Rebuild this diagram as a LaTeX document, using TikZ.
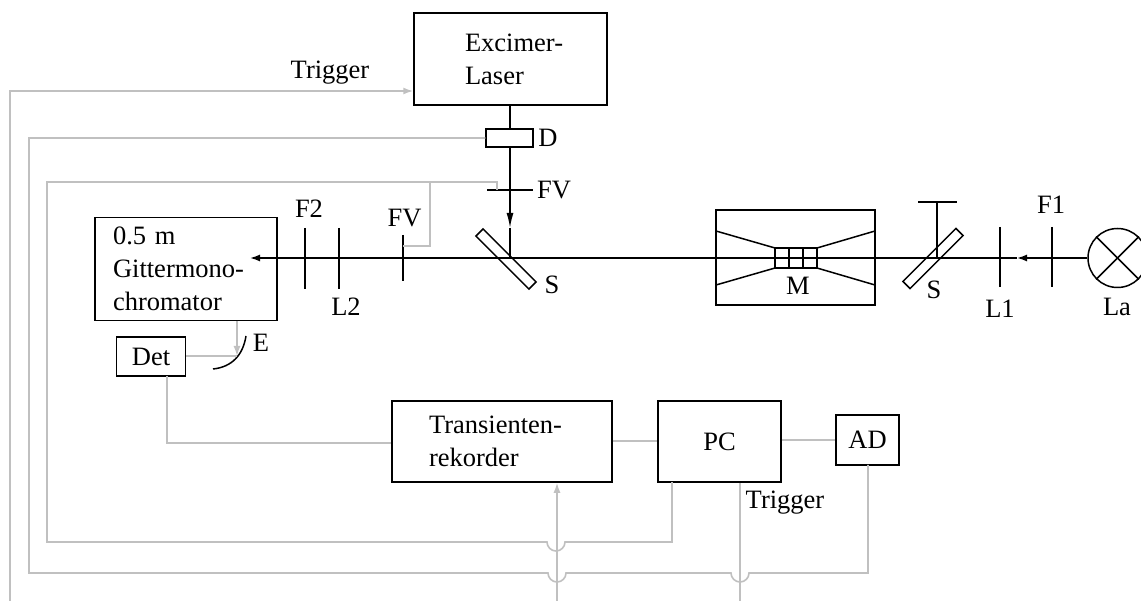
\documentclass[tikz,border=0pt]{standalone}
\usepackage{xcolor}
\usepackage{fontspec}
\usetikzlibrary{arrows.meta}
\setmainfont{Liberation Serif}
\definecolor{sigGray}{HTML}{C0C0C0}
\tikzset{
  lab/.style={inner sep=0pt,font=\fontsize{26.5}{33}\selectfont},
  boxnode/.style={draw=black,line width=1.5pt,inner sep=0pt,font=\fontsize{26.5}{33}\selectfont},
  beam/.style={draw=black,line width=1.5pt},
  elem/.style={draw=black,line width=1.5pt},
  sig/.style={draw=sigGray,line width=1.6pt},
  tip/.style={-{Latex[length=10pt,width=7pt]}}
}
\begin{document}
\begin{tikzpicture}[x=1pt,y=-1pt]
\useasboundingbox (0,0) rectangle (1141,601);
\def\hop{9}
% optics
\node[boxnode,minimum width=193,minimum height=92,text width=91,inner xsep=51pt,align=left] (laser) at (510.5,59) {\mbox{Excimer-}\\Laser};
\node[boxnode,minimum width=47,minimum height=18] (shutter) at (509.5,138) {};
\node[boxnode,minimum width=182,minimum height=103,text width=146,inner xsep=18pt,align=left] (mono) at (186,269) {0.5 m\\Gittermono-\\chromator};
\node[boxnode,minimum width=159,minimum height=95] (cell) at (795.5,257.5) {};
\node[boxnode,minimum width=75,minimum height=10,rotate=-45] (splitA) at (506,259) {};
\node[boxnode,minimum width=75,minimum height=10,rotate=45] (splitB) at (933,258.5) {};
\node[draw=black,line width=1.5pt,circle,minimum size=59,inner sep=0pt] (lamp) at (1117.5,258) {};
\coordinate (mono in) at (250,258);
\coordinate (lamp tip) at (1017,258);
\coordinate (hit A) at (510,258);
\coordinate (hit B) at (937,258);
\coordinate (pump tip) at (510,228);
\draw[elem] (lamp.45) -- (lamp.225);
\draw[elem] (lamp.135) -- (lamp.315);
\draw[beam,tip] (lamp.west) -- (lamp tip);
\draw[beam,tip] (lamp tip) -- (mono in);
\draw[beam] (laser.south-|hit A) -- (shutter.north-|hit A);
\draw[beam,-{Latex[length=15pt,width=7pt]}] (shutter.south-|hit A) -- (pump tip);
\draw[beam] (pump tip) -- (hit A);
\draw[elem] (hit B) -- (937,202);
\draw[elem] (918,202) -- (957,202);
% filter, lenses
\draw[elem] (305,228) -- (305,289);
\draw[elem] (339,228) -- (339,289);
\draw[elem] (403,235) -- (403,281);
\draw[elem] (487,190) -- (533,190);
\draw[elem] (1000,227) -- (1000,287);
\draw[elem] (1052,227) -- (1052,287);
% sample cell
\draw[elem] (775,248) rectangle (817,268);
\draw[elem] (789,248) rectangle (803,268);
\draw[elem] (716,231) -- (775,248) (716,285) -- (775,268);
\draw[elem] (875,231) -- (817,248) (875,285) -- (817,268);
\draw[elem] (213,369) .. controls (232,367) and (243,355) .. (246,336);
% electronics
\node[boxnode,minimum width=69,minimum height=39] (det) at (151,356.5) {Det};
\node[boxnode,minimum width=220,minimum height=81,text width=146,inner xsep=37pt,align=left] (rec) at (502,441.5) {Transienten-\\rekorder};
\node[boxnode,minimum width=123,minimum height=81] (pc) at (719.5,441.5) {PC};
\node[boxnode,minimum width=63,minimum height=50] (ad) at (867.5,440) {AD};
\draw[sig,tip] (237,321) -- (237,356);
\draw[sig] (det.east|-0,356) -- (237,356);
\draw[sig] (167,376) -- (167,443) -- (rec.west|-0,443);
\draw[sig] (rec.east|-0,441) -- (pc.west|-0,441);
\draw[sig] (pc.east|-0,440) -- (ad.west);
\draw[sig,tip] (10,601) -- (10,91) -- (laser.west|-0,91);
\draw[sig,tip] (557,601) -- (rec.south-|557,0);
\draw[sig] (740,601) -- (pc.south-|740,0);
% cables with hops
\draw[sig] (shutter.west) -- (29,138) -- (29,573) -- (548,573) arc[start angle=180,end angle=0,radius=\hop] -- (567,573) -- (731,573) arc[start angle=180,end angle=0,radius=\hop] -- (749,573) -- (868,573) -- (868,465);
\draw[sig] (672,482) -- (672,542) -- (565,542) arc[start angle=0,end angle=180,radius=\hop] -- (47,542) -- (47,182) -- (497,182) -- (497,190);
\draw[sig] (430,182) -- (430,246) -- (403,246);
% labels
\node[lab] (trigA) at (330,73) {Trigger};
\node[lab] (trigB) at (785,503) {Trigger};
\node[lab] (labD) at (548,138) {D};
\node[lab] (labFVa) at (554,190) {FV};
\node[lab] (labFVb) at (404.5,218) {FV};
\node[lab] (labF2) at (309,209) {F2};
\node[lab] (labL2) at (346,307) {L2};
\node[lab] (labSa) at (552,285) {S};
\node[lab] (labM) at (798,286) {M};
\node[lab] (labSb) at (934,290) {S};
\node[lab] (labL1) at (1000,309) {L1};
\node[lab] (labF1) at (1051,205) {F1};
\node[lab] (labLa) at (1117,307) {La};
\node[lab] (labE) at (261,343) {E};
\end{tikzpicture}
\end{document}
